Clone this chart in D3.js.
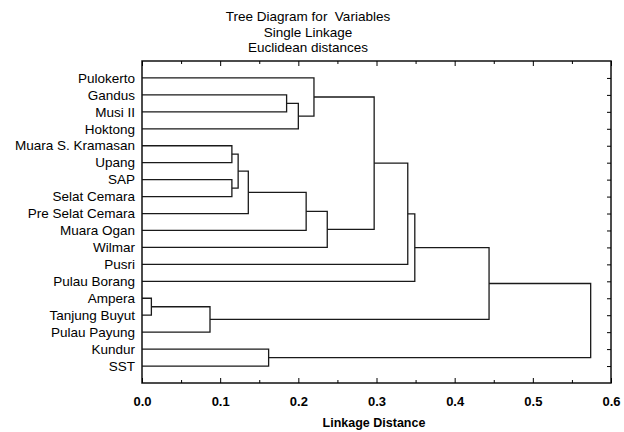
<!DOCTYPE html>
<html>
<head>
<meta charset="utf-8">
<script src="https://cdn.jsdelivr.net/npm/d3@7"></script>
<style>
  body { margin: 0; background: #fff; }
  text { font-family: "Liberation Sans", Arial, sans-serif; fill: #000; white-space: pre; }
</style>
</head>
<body>
<script>
// feuilles de l'arbre, de haut en bas
const leaves = ["Pulokerto", "Gandus", "Musi II", "Hoktong", "Muara S. Kramasan", "Upang",
  "SAP", "Selat Cemara", "Pre Selat Cemara", "Muara Ogan", "Wilmar", "Pusri",
  "Pulau Borang", "Ampera", "Tanjung Buyut", "Pulau Payung", "Kundur", "SST"];

// fusions (indices : 0-17 feuilles, 18+ = groupes crees dans l'ordre)
const mergeLeft  = [13, 18, 4, 6, 20, 22, 16, 1, 25, 23, 0, 27, 28, 30, 31, 32, 33];
const mergeRight = [14, 15, 5, 7, 21, 8, 17, 2, 3, 9, 26, 10, 29, 11, 12, 19, 24];
const mergeDist  = [0.012, 0.087, 0.115, 0.115, 0.123, 0.136, 0.162, 0.185, 0.200,
  0.210, 0.220, 0.237, 0.297, 0.340, 0.349, 0.444, 0.574];

const xTicks = [0.0, 0.1, 0.2, 0.3, 0.4, 0.5, 0.6];

const titles = ["Tree Diagram for  Variables", "Single Linkage", "Euclidean distances"];
const xTitle = "Linkage Distance";

const width = 624, height = 432;
const mLeft = 142, mRight = 611, mTop = 61, mBottom = 383;

const svg = d3.select("body").append("svg")
  .attr("width", width)
  .attr("height", height);

const x = d3.scaleLinear().domain([0, 0.6]).range([mLeft, mRight]);
const y = d3.scalePoint().domain(leaves).range([mTop, mBottom]).padding(1);

// positions des noeuds
const nodeY = leaves.map(d => y(d));
const nodeH = leaves.map(() => 0);
mergeDist.forEach((d, i) => {
  const a = mergeLeft[i], b = mergeRight[i];
  nodeY.push((nodeY[a] + nodeY[b]) / 2);
  nodeH.push(d);
});

// branches
const tree = svg.append("g")
  .attr("fill", "none")
  .attr("stroke", "#1a1a1a")
  .attr("stroke-width", 1.3);

mergeDist.forEach((d, i) => {
  const a = mergeLeft[i], b = mergeRight[i];
  const p = d3.path();
  p.moveTo(x(nodeH[a]), nodeY[a]);
  p.lineTo(x(d), nodeY[a]);
  p.lineTo(x(d), nodeY[b]);
  p.lineTo(x(nodeH[b]), nodeY[b]);
  tree.append("path").attr("d", p.toString());
});

// cadre
svg.append("rect")
  .attr("x", mLeft).attr("y", mTop)
  .attr("width", mRight - mLeft).attr("height", mBottom - mTop)
  .attr("fill", "none").attr("stroke", "#111").attr("stroke-width", 1.5);

// axes
const minor = d3.range(0.05, 0.6, 0.1);

svg.append("g")
  .attr("transform", `translate(0,${mBottom})`)
  .call(d3.axisBottom(x).tickValues(xTicks).tickSize(-5).tickPadding(14).tickFormat(d3.format(".1f")))
  .call(g => g.select(".domain").remove())
  .call(g => g.selectAll("text").attr("font-size", 13).attr("font-weight", "bold")
    .attr("font-family", "Liberation Sans, Arial, sans-serif"));

svg.append("g")
  .attr("transform", `translate(0,${mBottom})`)
  .call(d3.axisBottom(x).tickValues(minor).tickSize(-3).tickFormat(""))
  .call(g => g.select(".domain").remove());

svg.append("g")
  .attr("transform", `translate(0,${mTop})`)
  .call(d3.axisTop(x).tickValues(xTicks).tickSize(-5).tickFormat(""))
  .call(g => g.select(".domain").remove());

svg.append("g")
  .attr("transform", `translate(0,${mTop})`)
  .call(d3.axisTop(x).tickValues(minor).tickSize(-3).tickFormat(""))
  .call(g => g.select(".domain").remove());

svg.append("g")
  .attr("transform", `translate(${mRight},0)`)
  .call(d3.axisRight(y).tickSize(-4).tickFormat(""))
  .call(g => g.select(".domain").remove());

// noms des feuilles
svg.append("g").selectAll("text")
  .data(leaves)
  .join("text")
  .attr("x", mLeft - 7)
  .attr("y", d => y(d))
  .attr("dy", "0.35em")
  .attr("text-anchor", "end")
  .attr("font-size", 13.5)
  .text(d => d);

// titres
svg.append("g").selectAll("text")
  .data(titles)
  .join("text")
  .attr("x", 308)
  .attr("y", (d, i) => 21 + i * 15.5)
  .attr("text-anchor", "middle")
  .attr("font-size", 13.5)
  .text(d => d);

svg.append("text")
  .attr("x", 374)
  .attr("y", 427)
  .attr("text-anchor", "middle")
  .attr("font-size", 12.5)
  .attr("font-weight", "bold")
  .text(xTitle);
</script>
</body>
</html>
